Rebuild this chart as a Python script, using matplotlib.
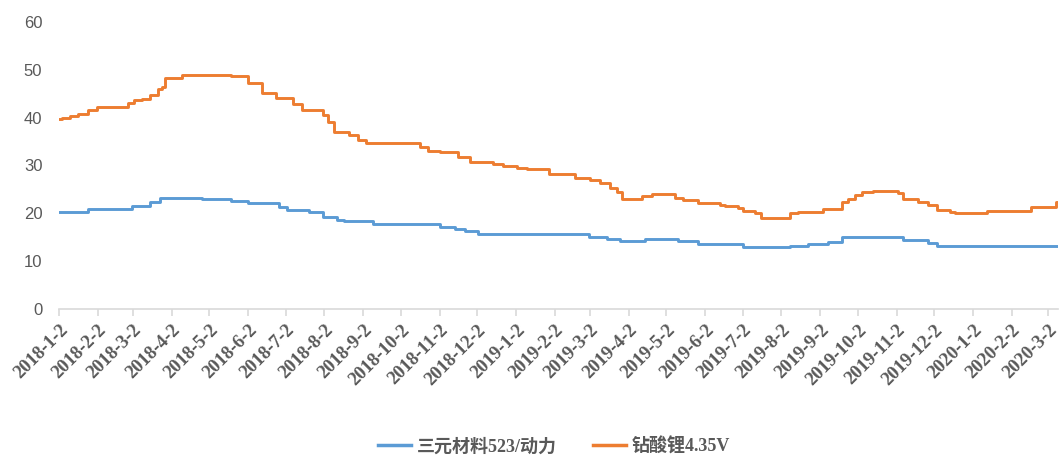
import matplotlib
matplotlib.use('Agg')
import matplotlib.pyplot as plt
import matplotlib.dates as mdates
import numpy as np
from datetime import date

# step change points (date the new level starts, level)
ncm_dates = ['2018-01-02', '2018-01-25', '2018-03-01', '2018-03-16', '2018-03-24',
             '2018-04-26', '2018-05-19', '2018-06-02', '2018-06-27', '2018-07-03',
             '2018-07-21', '2018-08-01', '2018-08-12', '2018-08-18', '2018-09-10',
             '2018-11-02', '2018-11-14', '2018-11-22', '2018-12-03', '2019-03-01',
             '2019-03-16', '2019-03-26', '2019-04-15', '2019-05-11', '2019-05-27',
             '2019-07-02', '2019-08-09', '2019-08-23', '2019-09-08', '2019-09-19',
             '2019-11-07', '2019-11-27', '2019-12-04', '2020-03-10']
ncm_vals = [20.3, 21.0, 21.6, 22.4, 23.3,
            23.0, 22.6, 22.1, 21.4, 20.8,
            20.3, 19.3, 18.7, 18.4, 17.8,
            17.2, 16.8, 16.3, 15.6, 15.1,
            14.6, 14.2, 14.6, 14.2, 13.6,
            13.0, 13.2, 13.5, 14.1, 15.1,
            14.4, 13.8, 13.1, 13.1]

lco_dates = ['2018-01-02', '2018-01-04', '2018-01-11', '2018-01-17', '2018-01-25',
             '2018-02-01', '2018-02-26', '2018-03-03', '2018-03-09', '2018-03-16',
             '2018-03-22', '2018-03-25', '2018-03-28', '2018-04-10', '2018-05-19',
             '2018-06-02', '2018-06-13', '2018-06-24', '2018-07-08', '2018-07-15',
             '2018-08-01', '2018-08-05', '2018-08-10', '2018-08-22', '2018-08-29',
             '2018-09-04', '2018-10-17', '2018-10-24', '2018-11-02', '2018-11-17',
             '2018-11-26', '2018-12-15', '2018-12-23', '2019-01-03', '2019-01-11',
             '2019-01-28', '2019-02-18', '2019-03-02', '2019-03-10', '2019-03-18',
             '2019-03-24', '2019-03-28', '2019-04-13', '2019-04-21', '2019-05-09',
             '2019-05-15', '2019-05-27', '2019-06-14', '2019-06-18', '2019-06-28',
             '2019-07-02', '2019-07-12', '2019-07-17', '2019-08-09', '2019-08-15',
             '2019-09-04', '2019-09-19', '2019-09-24', '2019-09-30', '2019-10-05',
             '2019-10-14', '2019-11-03', '2019-11-07', '2019-11-19', '2019-11-27',
             '2019-12-04', '2019-12-15', '2019-12-19', '2020-01-13', '2020-02-17',
             '2020-03-08', '2020-03-10']
lco_vals = [39.7, 40.0, 40.4, 40.8, 41.5,
            42.2, 43.0, 43.6, 44.0, 44.8,
            46.0, 46.4, 48.2, 48.9, 48.7,
            47.2, 45.2, 44.2, 42.8, 41.5,
            40.5, 39.1, 37.0, 36.3, 35.3,
            34.6, 33.9, 33.1, 32.9, 31.8,
            30.8, 30.3, 29.9, 29.5, 29.2,
            28.3, 27.3, 26.9, 26.4, 25.4,
            24.5, 23.1, 23.7, 24.0, 23.3,
            22.8, 22.1, 21.8, 21.5, 21.1,
            20.5, 20.0, 19.1, 20.0, 20.3,
            21.0, 22.4, 23.1, 23.8, 24.5,
            24.6, 24.2, 23.1, 22.4, 21.7,
            20.8, 20.3, 20.0, 20.5, 21.4,
            22.4, 22.4]

series_names = ['三元材料523/动力', '钻酸锂4.35V']
series_colors = ['#5B9BD5', '#ED7D31']

fig = plt.figure(figsize=(10.6, 4.58), dpi=100)
ax = fig.add_axes([0.0557, 0.3253, 0.9425, 0.6267])

ax.plot(np.array(ncm_dates, dtype='datetime64[D]'), ncm_vals, color=series_colors[0],
        lw=2.1, drawstyle='steps-post', label=series_names[0])
ax.plot(np.array(lco_dates, dtype='datetime64[D]'), lco_vals, color=series_colors[1],
        lw=2.1, drawstyle='steps-post', label=series_names[1])

ax.set_xlim(date(2018, 1, 2), date(2020, 3, 10))
ax.set_ylim(0, 60)
ax.set_yticks(range(0, 61, 10))

ax.xaxis.set_major_locator(mdates.MonthLocator(bymonthday=2))
ax.xaxis.set_major_formatter(plt.FuncFormatter(
    lambda v, pos: '{0.year}-{0.month}-{0.day}'.format(mdates.num2date(v))))

# Prettify
for s in ['top', 'right', 'left']:
    ax.spines[s].set_visible(False)
ax.spines['bottom'].set_color('#D9D9D9')
ax.spines['bottom'].set_linewidth(1.2)
ax.tick_params(axis='y', length=0, pad=12, labelsize=12, labelcolor='#595959')
ax.tick_params(axis='x', length=5, width=1.2, color='#D9D9D9', pad=4)
for lab in ax.get_yticklabels():
    lab.set_family('Liberation Sans')
for lab in ax.get_xticklabels():
    lab.set_family('Liberation Serif')
    lab.set_fontweight('bold')
    lab.set_fontsize(13.5)
    lab.set_color('#595959')
    lab.set_rotation(45)
    lab.set_rotation_mode('anchor')
    lab.set_ha('right')
    lab.set_va('top')

leg = fig.legend(loc='center', bbox_to_anchor=(0.523, 0.025), ncol=2, frameon=False,
                 handlelength=1.8, columnspacing=2.0, handletextpad=0.35,
                 prop={'family': ['Liberation Serif', 'Noto Sans CJK SC'],
                       'weight': 'bold', 'size': 13})
for t in leg.get_texts():
    t.set_color('#595959')
for h in leg.get_lines():
    h.set_linewidth(2.5)

fig.savefig('out.png', dpi=100)
